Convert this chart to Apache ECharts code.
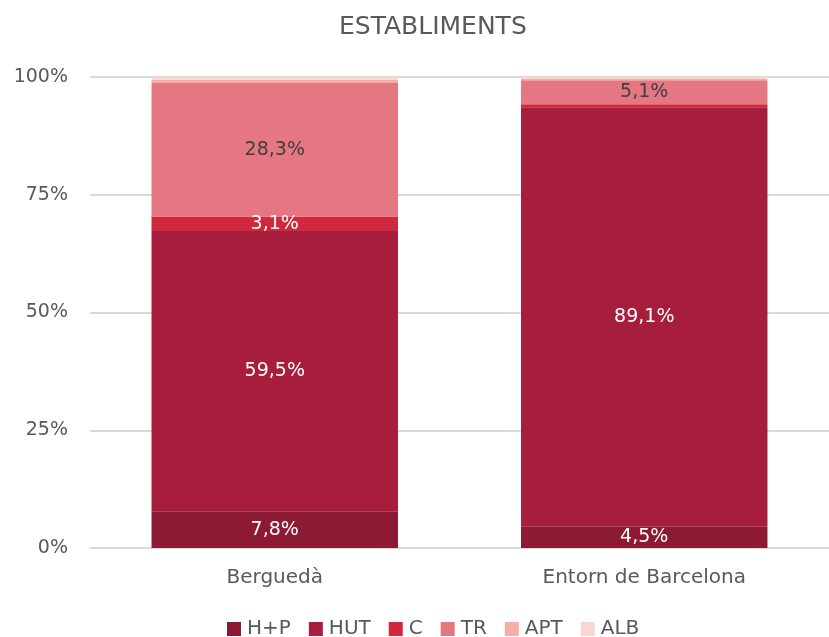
<!DOCTYPE html>
<html><head><meta charset="utf-8">
<script src="https://cdn.jsdelivr.net/npm/echarts@6/dist/echarts.min.js"></script>
<style>html,body{margin:0;padding:0;background:#fff}#c{width:829px;height:637px}</style>
</head><body><div id="c"></div>
<script>
const categories = ['Berguedà', 'Entorn de Barcelona'];
const seriesNames = ['H+P', 'HUT', 'C', 'TR', 'APT', 'ALB'];
const hp  = [7.8, 4.5];
const hut = [59.5, 89.1];
const c   = [3.1, 0.6];
const tr  = [28.3, 5.1];
const apt = [0.7, 0.4];
const alb = [0.6, 0.3];
const yTicks = [0, 25, 50, 75, 100];

const colors = ['#8B1A32', '#A61E3C', '#D0283C', '#E57783', '#F4B0A6', '#F8D6D2'];
const labelColors = ['#ffffff', '#ffffff', '#ffffff', '#404040', '#404040', '#404040'];
const showMin = [1, 1, 1, 1, 99, 99];
const dataSets = [hp, hut, c, tr, apt, alb];
const font = '"DejaVu Sans", sans-serif';

const chart = echarts.init(document.getElementById('c'), null, {renderer: 'canvas'});
chart.setOption({
  animation: false,
  color: colors,
  title: {
    text: 'ESTABLIMENTS', left: 334, top: 10,
    textStyle: {fontFamily: font, fontSize: 25, fontWeight: 'normal', color: '#595959'}
  },
  legend: {
    bottom: -7, left: 222, itemWidth: 14, itemHeight: 14, itemGap: 18,
    icon: 'rect',
    textStyle: {fontFamily: font, fontSize: 20, color: '#595959', padding: [0, 0, 0, 1]},
    data: seriesNames
  },
  grid: {left: 90, right: -5, top: 77, bottom: 89},
  xAxis: {
    type: 'category', data: categories,
    axisLine: {show: false}, axisTick: {show: false},
    axisLabel: {fontFamily: font, fontSize: 20, color: '#595959', margin: 20}
  },
  yAxis: {
    type: 'value', min: 0, max: 100, interval: 25,
    axisLabel: {fontFamily: font, fontSize: 19, color: '#595959', margin: 22,
      formatter: v => yTicks.includes(v) ? v + '%' : ''},
    splitLine: {lineStyle: {color: '#d9d9d9', width: 2}}
  },
  series: seriesNames.map((name, i) => ({
    name, type: 'bar', stack: 'total', barWidth: '66.7%',
    data: dataSets[i],
    itemStyle: {color: colors[i]},
    label: {
      show: true, position: 'inside',
      fontFamily: font, fontSize: 19, color: labelColors[i],
      formatter: p => p.value >= showMin[i] ? String(p.value.toFixed(1)).replace('.', ',') + '%' : ''
    }
  }))
});
</script></body></html>
